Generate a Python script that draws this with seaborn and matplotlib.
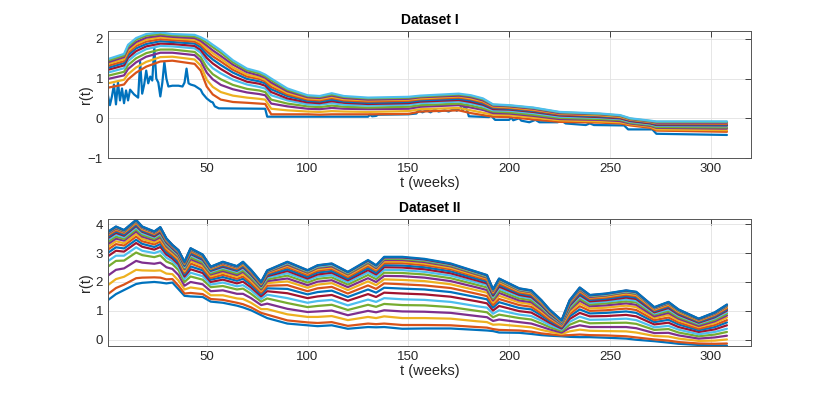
import matplotlib
matplotlib.use("Agg")
import matplotlib.pyplot as plt
import pandas as pd
import seaborn as sns

# ---------------- Dataset I ----------------
# series 1 (lowest, noisy) read point by point
d1_s01_weeks = [1, 2, 3, 4, 5, 6, 7, 8, 9, 10, 11, 12, 14, 16, 17, 18, 19, 20, 21, 22,
                23, 24, 25, 26, 27, 28, 29, 30, 31, 33, 36, 38, 39, 40, 41, 42, 44, 47,
                48, 50, 52, 53, 54, 56, 79, 80, 100, 130, 131, 132, 134, 135, 150, 154,
                155, 157, 159, 161, 163, 165, 168, 170, 173, 174, 176, 177, 178, 179,
                180, 190, 191, 193, 200, 201, 202, 205, 206, 210, 213, 215, 224, 226,
                228, 238, 240, 242, 257, 259, 271, 273, 308]
d1_s01_vals = [0.58, 0.33, 0.55, 0.85, 0.35, 0.90, 0.45, 0.75, 0.38, 0.70, 0.45, 0.72, 0.60,
               0.52, 1.42, 0.62, 0.85, 1.20, 0.88, 1.05, 0.95, 1.78, 1.00, 0.90, 0.55, 0.90,
               1.42, 1.00, 0.80, 0.82, 0.82, 0.80, 0.90, 1.25, 0.88, 0.85, 0.82, 0.72, 0.62,
               0.50, 0.42, 0.40, 0.30, 0.25, 0.24, 0.04, 0.04, 0.04, 0.09, 0.05, 0.06, 0.09,
               0.10, 0.12, 0.20, 0.15, 0.20, 0.15, 0.22, 0.17, 0.20, 0.17, 0.24, 0.19, 0.28,
               0.20, 0.30, 0.22, 0.05, 0.03, 0.07, -0.04, -0.04, 0.02, -0.05, 0.00, -0.06,
               -0.10, -0.04, -0.10, -0.10, -0.06, -0.13, -0.17, -0.13, -0.17, -0.18, -0.28,
               -0.28, -0.39, -0.42]

# series 2..13, one row per week (values from low to high series)
d1_weeks = [1, 9, 11, 15, 20, 27, 33, 44, 47, 50, 53, 57, 63, 70, 76, 79, 82, 90, 100, 106,
            112, 118, 130, 150, 156, 175, 181, 187, 192, 200, 212, 225, 245, 255, 260, 270,
            273, 308]
d1_w001 = [0.77, 0.88, 0.99, 1.07, 1.15, 1.22, 1.27, 1.32, 1.37, 1.41, 1.45, 1.49]
d1_w009 = [0.85, 0.97, 1.08, 1.17, 1.26, 1.33, 1.39, 1.44, 1.49, 1.54, 1.58, 1.62]
d1_w011 = [0.98, 1.11, 1.24, 1.34, 1.44, 1.52, 1.59, 1.65, 1.70, 1.75, 1.81, 1.85]
d1_w015 = [1.15, 1.28, 1.41, 1.51, 1.61, 1.69, 1.76, 1.82, 1.87, 1.92, 1.98, 2.02]
d1_w020 = [1.30, 1.42, 1.55, 1.64, 1.74, 1.81, 1.87, 1.93, 1.98, 2.03, 2.08, 2.12]
d1_w027 = [1.43, 1.54, 1.65, 1.73, 1.82, 1.88, 1.94, 1.99, 2.04, 2.08, 2.12, 2.16]
d1_w033 = [1.45, 1.55, 1.65, 1.73, 1.81, 1.87, 1.92, 1.97, 2.01, 2.05, 2.09, 2.12]
d1_w044 = [1.37, 1.48, 1.59, 1.67, 1.76, 1.82, 1.88, 1.93, 1.98, 2.02, 2.06, 2.10]
d1_w047 = [1.20, 1.33, 1.45, 1.54, 1.65, 1.72, 1.79, 1.85, 1.90, 1.95, 2.00, 2.04]
d1_w050 = [0.80, 0.97, 1.15, 1.28, 1.42, 1.52, 1.61, 1.69, 1.76, 1.83, 1.90, 1.96]
d1_w053 = [0.60, 0.79, 0.98, 1.11, 1.26, 1.38, 1.48, 1.56, 1.64, 1.71, 1.79, 1.85]
d1_w057 = [0.47, 0.66, 0.84, 0.98, 1.13, 1.24, 1.34, 1.43, 1.50, 1.57, 1.65, 1.71]
d1_w063 = [0.41, 0.57, 0.73, 0.84, 0.97, 1.06, 1.15, 1.22, 1.28, 1.35, 1.41, 1.46]
d1_w070 = [0.39, 0.52, 0.65, 0.74, 0.85, 0.92, 0.99, 1.05, 1.10, 1.16, 1.21, 1.25]
d1_w076 = [0.37, 0.49, 0.61, 0.70, 0.79, 0.87, 0.93, 0.99, 1.03, 1.08, 1.13, 1.17]
d1_w079 = [0.36, 0.47, 0.58, 0.66, 0.75, 0.82, 0.88, 0.93, 0.97, 1.02, 1.06, 1.10]
d1_w082 = [0.10, 0.24, 0.37, 0.47, 0.58, 0.66, 0.73, 0.79, 0.85, 0.90, 0.96, 1.00]
d1_w090 = [0.10, 0.20, 0.30, 0.37, 0.45, 0.50, 0.56, 0.60, 0.64, 0.68, 0.72, 0.75]
d1_w100 = [0.10, 0.17, 0.24, 0.30, 0.35, 0.40, 0.44, 0.47, 0.50, 0.53, 0.56, 0.58]
d1_w106 = [0.09, 0.16, 0.23, 0.28, 0.34, 0.38, 0.42, 0.45, 0.48, 0.51, 0.54, 0.56]
d1_w112 = [0.10, 0.18, 0.26, 0.32, 0.38, 0.43, 0.47, 0.51, 0.54, 0.57, 0.60, 0.63]
d1_w118 = [0.10, 0.17, 0.24, 0.29, 0.34, 0.39, 0.42, 0.45, 0.48, 0.51, 0.54, 0.56]
d1_w130 = [0.10, 0.16, 0.23, 0.27, 0.32, 0.36, 0.39, 0.42, 0.45, 0.47, 0.50, 0.52]
d1_w150 = [0.11, 0.18, 0.24, 0.29, 0.34, 0.38, 0.41, 0.44, 0.47, 0.49, 0.52, 0.54]
d1_w156 = [0.17, 0.23, 0.29, 0.33, 0.38, 0.42, 0.45, 0.48, 0.50, 0.53, 0.55, 0.57]
d1_w175 = [0.20, 0.26, 0.33, 0.37, 0.42, 0.46, 0.49, 0.52, 0.55, 0.57, 0.60, 0.62]
d1_w181 = [0.13, 0.20, 0.27, 0.32, 0.37, 0.41, 0.45, 0.48, 0.50, 0.53, 0.56, 0.58]
d1_w187 = [0.08, 0.14, 0.21, 0.25, 0.30, 0.34, 0.37, 0.40, 0.43, 0.45, 0.48, 0.50]
d1_w192 = [0.04, 0.09, 0.13, 0.17, 0.20, 0.23, 0.26, 0.28, 0.30, 0.32, 0.34, 0.35]
d1_w200 = [0.03, 0.08, 0.12, 0.15, 0.19, 0.22, 0.24, 0.26, 0.28, 0.30, 0.32, 0.33]
d1_w212 = [-0.03, 0.02, 0.06, 0.09, 0.13, 0.16, 0.18, 0.20, 0.22, 0.24, 0.26, 0.27]
d1_w225 = [-0.09, -0.05, -0.02, 0.01, 0.04, 0.07, 0.09, 0.10, 0.12, 0.13, 0.15, 0.16]
d1_w245 = [-0.11, -0.08, -0.04, -0.02, 0.01, 0.03, 0.05, 0.07, 0.08, 0.10, 0.11, 0.12]
d1_w255 = [-0.13, -0.10, -0.07, -0.04, -0.02, 0.00, 0.02, 0.03, 0.04, 0.06, 0.07, 0.08]
d1_w260 = [-0.18, -0.15, -0.13, -0.11, -0.09, -0.07, -0.05, -0.04, -0.03, -0.02, -0.01, 0.00]
d1_w270 = [-0.24, -0.21, -0.19, -0.17, -0.15, -0.13, -0.11, -0.10, -0.09, -0.08, -0.07, -0.06]
d1_w273 = [-0.31, -0.28, -0.24, -0.22, -0.19, -0.17, -0.15, -0.13, -0.12, -0.11, -0.09, -0.08]
d1_w308 = [-0.34, -0.30, -0.26, -0.23, -0.20, -0.18, -0.16, -0.14, -0.12, -0.11, -0.09, -0.08]
d1_table = [d1_w001, d1_w009, d1_w011, d1_w015, d1_w020, d1_w027, d1_w033, d1_w044, d1_w047,
            d1_w050, d1_w053, d1_w057, d1_w063, d1_w070, d1_w076, d1_w079, d1_w082, d1_w090,
            d1_w100, d1_w106, d1_w112, d1_w118, d1_w130, d1_w150, d1_w156, d1_w175, d1_w181,
            d1_w187, d1_w192, d1_w200, d1_w212, d1_w225, d1_w245, d1_w255, d1_w260, d1_w270,
            d1_w273, d1_w308]

# ---------------- Dataset II ----------------
# 22 series, one row per week (values from low to high series)
d2_weeks = [1, 5, 9, 15, 18, 24, 27, 30, 33, 36, 39, 42, 48, 52, 58, 65, 68, 72, 77, 80, 90,
            100, 105, 112, 120, 130, 134, 138, 147, 158, 171, 184, 189, 192, 195, 205, 211,
            216, 220, 226, 230, 235, 240, 248, 258, 263, 272, 279, 284, 294, 302, 308]
d2_w001 = [1.37, 1.58, 1.89, 2.22, 2.53, 2.72, 2.89, 3.01, 3.12, 3.22, 3.31, 3.39, 3.46, 3.52, 3.56, 3.61, 3.65, 3.67, 3.70, 3.72, 3.73, 3.74]
d2_w005 = [1.58, 1.79, 2.10, 2.42, 2.73, 2.91, 3.08, 3.20, 3.31, 3.41, 3.50, 3.57, 3.64, 3.70, 3.75, 3.79, 3.83, 3.85, 3.88, 3.90, 3.91, 3.92]
d2_w009 = [1.72, 1.91, 2.18, 2.47, 2.74, 2.91, 3.05, 3.16, 3.26, 3.34, 3.43, 3.49, 3.55, 3.60, 3.64, 3.69, 3.72, 3.74, 3.76, 3.78, 3.79, 3.80]
d2_w015 = [1.93, 2.13, 2.42, 2.73, 3.02, 3.20, 3.35, 3.46, 3.57, 3.66, 3.75, 3.82, 3.88, 3.94, 3.98, 4.03, 4.06, 4.09, 4.11, 4.13, 4.14, 4.15]
d2_w018 = [1.97, 2.15, 2.40, 2.67, 2.93, 3.08, 3.22, 3.32, 3.41, 3.49, 3.57, 3.63, 3.69, 3.74, 3.77, 3.81, 3.84, 3.87, 3.89, 3.90, 3.91, 3.92]
d2_w024 = [2.00, 2.16, 2.39, 2.63, 2.86, 3.00, 3.12, 3.21, 3.30, 3.37, 3.44, 3.49, 3.54, 3.58, 3.62, 3.65, 3.68, 3.70, 3.72, 3.73, 3.74, 3.75]
d2_w027 = [1.98, 2.15, 2.40, 2.67, 2.92, 3.07, 3.21, 3.31, 3.40, 3.48, 3.55, 3.61, 3.67, 3.72, 3.76, 3.79, 3.82, 3.85, 3.87, 3.88, 3.89, 3.90]
d2_w030 = [1.95, 2.09, 2.29, 2.51, 2.71, 2.84, 2.95, 3.03, 3.10, 3.17, 3.23, 3.28, 3.32, 3.36, 3.39, 3.42, 3.45, 3.47, 3.48, 3.49, 3.50, 3.51]
d2_w033 = [1.98, 2.10, 2.27, 2.45, 2.62, 2.72, 2.81, 2.88, 2.94, 2.99, 3.05, 3.09, 3.12, 3.16, 3.18, 3.21, 3.23, 3.24, 3.26, 3.27, 3.28, 3.28]
d2_w036 = [1.75, 1.87, 2.05, 2.24, 2.41, 2.52, 2.61, 2.68, 2.75, 2.80, 2.86, 2.90, 2.94, 2.97, 3.00, 3.03, 3.05, 3.06, 3.08, 3.09, 3.10, 3.10]
d2_w039 = [1.52, 1.60, 1.74, 1.87, 2.00, 2.10, 2.19, 2.26, 2.32, 2.38, 2.44, 2.48, 2.52, 2.56, 2.58, 2.62, 2.64, 2.66, 2.67, 2.69, 2.69, 2.70]
d2_w042 = [1.50, 1.62, 1.81, 2.00, 2.19, 2.32, 2.44, 2.54, 2.64, 2.72, 2.79, 2.85, 2.92, 2.97, 3.00, 3.05, 3.09, 3.11, 3.13, 3.15, 3.16, 3.17]
d2_w048 = [1.48, 1.58, 1.75, 1.92, 2.08, 2.20, 2.31, 2.40, 2.48, 2.55, 2.62, 2.67, 2.73, 2.77, 2.80, 2.85, 2.88, 2.90, 2.91, 2.93, 2.94, 2.95]
d2_w052 = [1.32, 1.41, 1.54, 1.68, 1.82, 1.91, 2.00, 2.08, 2.14, 2.20, 2.26, 2.30, 2.35, 2.39, 2.41, 2.45, 2.47, 2.49, 2.50, 2.51, 2.52, 2.53]
d2_w058 = [1.28, 1.38, 1.54, 1.71, 1.86, 1.98, 2.08, 2.17, 2.25, 2.32, 2.38, 2.43, 2.49, 2.53, 2.56, 2.60, 2.63, 2.65, 2.67, 2.68, 2.69, 2.70]
d2_w065 = [1.18, 1.28, 1.43, 1.59, 1.74, 1.85, 1.95, 2.04, 2.11, 2.18, 2.24, 2.29, 2.35, 2.39, 2.41, 2.45, 2.48, 2.50, 2.52, 2.53, 2.54, 2.55]
d2_w068 = [1.12, 1.23, 1.41, 1.59, 1.77, 1.89, 2.01, 2.11, 2.19, 2.27, 2.35, 2.40, 2.46, 2.51, 2.54, 2.59, 2.62, 2.65, 2.66, 2.68, 2.69, 2.70]
d2_w072 = [1.02, 1.12, 1.28, 1.44, 1.59, 1.71, 1.81, 1.90, 1.97, 2.04, 2.11, 2.15, 2.21, 2.25, 2.28, 2.32, 2.35, 2.37, 2.39, 2.40, 2.41, 2.42]
d2_w077 = [0.85, 0.93, 1.06, 1.20, 1.32, 1.41, 1.50, 1.57, 1.63, 1.69, 1.74, 1.78, 1.83, 1.86, 1.89, 1.92, 1.94, 1.96, 1.97, 1.99, 1.99, 2.00]
d2_w080 = [0.75, 0.87, 1.06, 1.25, 1.43, 1.56, 1.68, 1.78, 1.87, 1.96, 2.03, 2.09, 2.15, 2.20, 2.24, 2.29, 2.32, 2.34, 2.36, 2.38, 2.39, 2.40]
d2_w090 = [0.56, 0.67, 0.88, 1.07, 1.27, 1.44, 1.61, 1.76, 1.89, 2.02, 2.12, 2.22, 2.30, 2.38, 2.44, 2.51, 2.56, 2.60, 2.64, 2.66, 2.69, 2.70]
d2_w100 = [0.50, 0.60, 0.79, 0.96, 1.13, 1.28, 1.44, 1.57, 1.68, 1.80, 1.89, 1.98, 2.06, 2.12, 2.18, 2.24, 2.29, 2.32, 2.35, 2.38, 2.40, 2.41]
d2_w105 = [0.47, 0.58, 0.79, 0.98, 1.17, 1.34, 1.50, 1.65, 1.78, 1.91, 2.01, 2.11, 2.19, 2.26, 2.33, 2.39, 2.44, 2.49, 2.52, 2.54, 2.57, 2.58]
d2_w112 = [0.50, 0.61, 0.82, 1.01, 1.21, 1.38, 1.55, 1.70, 1.83, 1.96, 2.06, 2.16, 2.24, 2.32, 2.38, 2.45, 2.50, 2.54, 2.58, 2.60, 2.63, 2.64]
d2_w120 = [0.38, 0.48, 0.68, 0.85, 1.03, 1.19, 1.35, 1.48, 1.60, 1.72, 1.82, 1.91, 1.99, 2.06, 2.11, 2.17, 2.22, 2.26, 2.29, 2.32, 2.34, 2.35]
d2_w130 = [0.44, 0.56, 0.79, 1.00, 1.21, 1.39, 1.58, 1.74, 1.88, 2.02, 2.13, 2.24, 2.33, 2.41, 2.48, 2.55, 2.61, 2.66, 2.69, 2.72, 2.74, 2.76]
d2_w134 = [0.43, 0.54, 0.75, 0.95, 1.14, 1.31, 1.48, 1.63, 1.76, 1.89, 2.00, 2.10, 2.18, 2.26, 2.32, 2.39, 2.44, 2.48, 2.52, 2.54, 2.57, 2.58]
d2_w138 = [0.44, 0.56, 0.81, 1.02, 1.24, 1.44, 1.63, 1.80, 1.95, 2.09, 2.21, 2.32, 2.42, 2.51, 2.58, 2.65, 2.71, 2.76, 2.80, 2.83, 2.85, 2.87]
d2_w147 = [0.38, 0.51, 0.75, 0.98, 1.20, 1.40, 1.60, 1.77, 1.92, 2.07, 2.20, 2.31, 2.41, 2.50, 2.57, 2.65, 2.71, 2.76, 2.80, 2.83, 2.85, 2.87]
d2_w158 = [0.39, 0.51, 0.75, 0.97, 1.19, 1.38, 1.57, 1.74, 1.88, 2.03, 2.15, 2.26, 2.35, 2.44, 2.51, 2.58, 2.64, 2.69, 2.73, 2.76, 2.78, 2.80]
d2_w171 = [0.39, 0.50, 0.73, 0.93, 1.13, 1.31, 1.49, 1.65, 1.79, 1.92, 2.03, 2.13, 2.22, 2.30, 2.37, 2.44, 2.49, 2.54, 2.57, 2.60, 2.62, 2.64]
d2_w184 = [0.34, 0.44, 0.64, 0.82, 1.00, 1.16, 1.33, 1.47, 1.59, 1.71, 1.81, 1.90, 1.98, 2.05, 2.11, 2.17, 2.22, 2.26, 2.29, 2.32, 2.34, 2.35]
d2_w189 = [0.32, 0.42, 0.61, 0.78, 0.95, 1.11, 1.26, 1.40, 1.51, 1.63, 1.72, 1.81, 1.89, 1.95, 2.01, 2.07, 2.12, 2.15, 2.18, 2.21, 2.23, 2.24]
d2_w192 = [0.30, 0.37, 0.52, 0.65, 0.78, 0.90, 1.01, 1.11, 1.20, 1.29, 1.36, 1.42, 1.48, 1.53, 1.58, 1.62, 1.66, 1.69, 1.71, 1.73, 1.74, 1.75]
d2_w195 = [0.25, 0.34, 0.53, 0.70, 0.87, 1.02, 1.17, 1.30, 1.41, 1.52, 1.62, 1.70, 1.77, 1.84, 1.90, 1.95, 2.00, 2.04, 2.06, 2.09, 2.11, 2.12]
d2_w205 = [0.24, 0.32, 0.47, 0.61, 0.75, 0.87, 0.99, 1.10, 1.20, 1.29, 1.36, 1.43, 1.50, 1.55, 1.60, 1.64, 1.68, 1.71, 1.73, 1.75, 1.77, 1.78]
d2_w211 = [0.20, 0.28, 0.43, 0.56, 0.70, 0.82, 0.94, 1.05, 1.14, 1.23, 1.30, 1.37, 1.43, 1.48, 1.53, 1.57, 1.61, 1.64, 1.66, 1.68, 1.70, 1.71]
d2_w216 = [0.16, 0.22, 0.34, 0.45, 0.56, 0.66, 0.75, 0.84, 0.91, 0.98, 1.04, 1.10, 1.15, 1.19, 1.22, 1.26, 1.29, 1.32, 1.33, 1.35, 1.36, 1.37]
d2_w220 = [0.14, 0.19, 0.28, 0.36, 0.44, 0.51, 0.59, 0.65, 0.70, 0.76, 0.80, 0.85, 0.88, 0.91, 0.94, 0.97, 0.99, 1.01, 1.02, 1.03, 1.04, 1.05]
d2_w226 = [0.12, 0.15, 0.20, 0.25, 0.30, 0.35, 0.39, 0.43, 0.46, 0.49, 0.52, 0.55, 0.57, 0.59, 0.60, 0.62, 0.63, 0.65, 0.65, 0.66, 0.67, 0.67]
d2_w230 = [0.10, 0.16, 0.29, 0.41, 0.52, 0.62, 0.72, 0.81, 0.89, 0.96, 1.03, 1.08, 1.14, 1.18, 1.22, 1.26, 1.29, 1.31, 1.33, 1.35, 1.36, 1.37]
d2_w235 = [0.09, 0.18, 0.35, 0.50, 0.66, 0.80, 0.93, 1.05, 1.16, 1.26, 1.35, 1.42, 1.49, 1.55, 1.60, 1.66, 1.70, 1.73, 1.76, 1.78, 1.80, 1.81]
d2_w240 = [0.09, 0.16, 0.31, 0.44, 0.57, 0.69, 0.81, 0.91, 1.00, 1.08, 1.16, 1.22, 1.28, 1.33, 1.38, 1.42, 1.46, 1.48, 1.51, 1.53, 1.54, 1.55]
d2_w248 = [0.07, 0.15, 0.30, 0.44, 0.58, 0.70, 0.82, 0.93, 1.02, 1.11, 1.19, 1.26, 1.32, 1.37, 1.42, 1.46, 1.50, 1.53, 1.55, 1.57, 1.59, 1.60]
d2_w258 = [0.04, 0.12, 0.29, 0.44, 0.59, 0.73, 0.86, 0.98, 1.08, 1.18, 1.26, 1.33, 1.40, 1.46, 1.51, 1.56, 1.60, 1.64, 1.66, 1.68, 1.70, 1.71]
d2_w263 = [0.00, 0.08, 0.25, 0.40, 0.55, 0.68, 0.81, 0.93, 1.03, 1.13, 1.21, 1.29, 1.35, 1.41, 1.46, 1.51, 1.55, 1.59, 1.61, 1.63, 1.65, 1.66]
d2_w272 = [-0.05, 0.01, 0.13, 0.23, 0.34, 0.43, 0.53, 0.61, 0.68, 0.75, 0.81, 0.87, 0.91, 0.95, 0.99, 1.02, 1.05, 1.08, 1.10, 1.11, 1.12, 1.13]
d2_w279 = [-0.10, -0.03, 0.11, 0.24, 0.37, 0.48, 0.59, 0.69, 0.77, 0.86, 0.93, 0.99, 1.05, 1.10, 1.14, 1.18, 1.22, 1.25, 1.27, 1.29, 1.30, 1.31]
d2_w284 = [-0.14, -0.08, 0.04, 0.15, 0.25, 0.35, 0.44, 0.53, 0.60, 0.67, 0.73, 0.78, 0.83, 0.87, 0.91, 0.94, 0.97, 1.00, 1.01, 1.03, 1.04, 1.05]
d2_w294 = [-0.18, -0.13, -0.04, 0.04, 0.12, 0.19, 0.27, 0.33, 0.38, 0.44, 0.48, 0.53, 0.56, 0.59, 0.62, 0.65, 0.67, 0.69, 0.70, 0.72, 0.72, 0.73]
d2_w302 = [-0.20, -0.14, -0.03, 0.08, 0.18, 0.27, 0.36, 0.44, 0.51, 0.58, 0.64, 0.69, 0.74, 0.78, 0.81, 0.85, 0.88, 0.90, 0.92, 0.93, 0.94, 0.95]
d2_w308 = [-0.20, -0.13, 0.01, 0.14, 0.27, 0.38, 0.50, 0.60, 0.68, 0.77, 0.84, 0.90, 0.96, 1.01, 1.05, 1.09, 1.13, 1.16, 1.18, 1.20, 1.21, 1.22]
d2_table = [d2_w001, d2_w005, d2_w009, d2_w015, d2_w018, d2_w024, d2_w027, d2_w030, d2_w033,
            d2_w036, d2_w039, d2_w042, d2_w048, d2_w052, d2_w058, d2_w065, d2_w068, d2_w072,
            d2_w077, d2_w080, d2_w090, d2_w100, d2_w105, d2_w112, d2_w120, d2_w130, d2_w134,
            d2_w138, d2_w147, d2_w158, d2_w171, d2_w184, d2_w189, d2_w192, d2_w195, d2_w205,
            d2_w211, d2_w216, d2_w220, d2_w226, d2_w230, d2_w235, d2_w240, d2_w248, d2_w258,
            d2_w263, d2_w272, d2_w279, d2_w284, d2_w294, d2_w302, d2_w308]

titles = ["Dataset I", "Dataset II"]
x_label = "t (weeks)"
y_label = "r(t)"
x_ticks = [50, 100, 150, 200, 250, 300]
y_ticks_1 = [-1, 0, 1, 2]
y_ticks_2 = [0, 1, 2, 3, 4]

matlab_colors = ["#0072BD", "#D95319", "#EDB120", "#7E2F8E", "#77AC30", "#4DBEEE", "#A2142F"]


def long_records(weeks, table, first):
    recs = []
    for wk, row in zip(weeks, table):
        for k, v in enumerate(row):
            recs.append({"week": wk, "r": v, "series": "s%02d" % (k + first)})
    return recs


recs1 = [{"week": w, "r": v, "series": "s01"} for w, v in zip(d1_s01_weeks, d1_s01_vals)]
recs1 += long_records(d1_weeks, d1_table, 2)
df1 = pd.DataFrame(recs1)
df2 = pd.DataFrame(long_records(d2_weeks, d2_table, 1))

order1 = ["s%02d" % k for k in range(1, 14)]
order2 = ["s%02d" % k for k in range(1, 23)]
pal1 = {name: matlab_colors[i % 7] for i, name in enumerate(order1)}
pal2 = {name: matlab_colors[i % 7] for i, name in enumerate(order2)}

sns.set_theme(style="white")
plt.rcParams["font.family"] = ["Liberation Sans", "DejaVu Sans"]

fig = plt.figure(figsize=(8.3, 3.96), dpi=100)
ax1 = fig.add_axes([0.130, 0.601, 0.775, 0.321])
ax2 = fig.add_axes([0.130, 0.126, 0.775, 0.321])

sns.lineplot(data=df1, x="week", y="r", hue="series", hue_order=order1, palette=pal1,
             estimator=None, errorbar=None, legend=False, linewidth=1.6, ax=ax1)
sns.lineplot(data=df2, x="week", y="r", hue="series", hue_order=order2, palette=pal2,
             estimator=None, errorbar=None, legend=False, linewidth=1.6, ax=ax2)


def style(ax, ylim, yticks, title):
    ax.set_xlim(1, 320)
    ax.set_ylim(*ylim)
    ax.set_xticks(x_ticks)
    ax.set_yticks(yticks)
    ax.grid(True, color="#e2e2e2", linewidth=0.6)
    ax.set_axisbelow(True)
    ax.tick_params(direction="in", top=True, right=True, length=4, width=0.6,
                   colors="#262626", labelsize=9.5, pad=3.5)
    for s in ax.spines.values():
        s.set_visible(True)
        s.set_color("#555555")
        s.set_linewidth(0.7)
    ax.set_title(title, fontsize=10, fontweight="bold", color="black", pad=5)
    ax.set_xlabel(x_label, fontsize=10.5, color="#262626", labelpad=0.5)
    ax.set_ylabel(y_label, fontsize=10.5, color="#262626", va="center")
    ax.yaxis.set_label_coords(-0.034, 0.5)


style(ax1, (-1, 2.2), y_ticks_1, titles[0])
style(ax2, (-0.22, 4.18), y_ticks_2, titles[1])

fig.savefig("out.png", dpi=100, facecolor="white")
